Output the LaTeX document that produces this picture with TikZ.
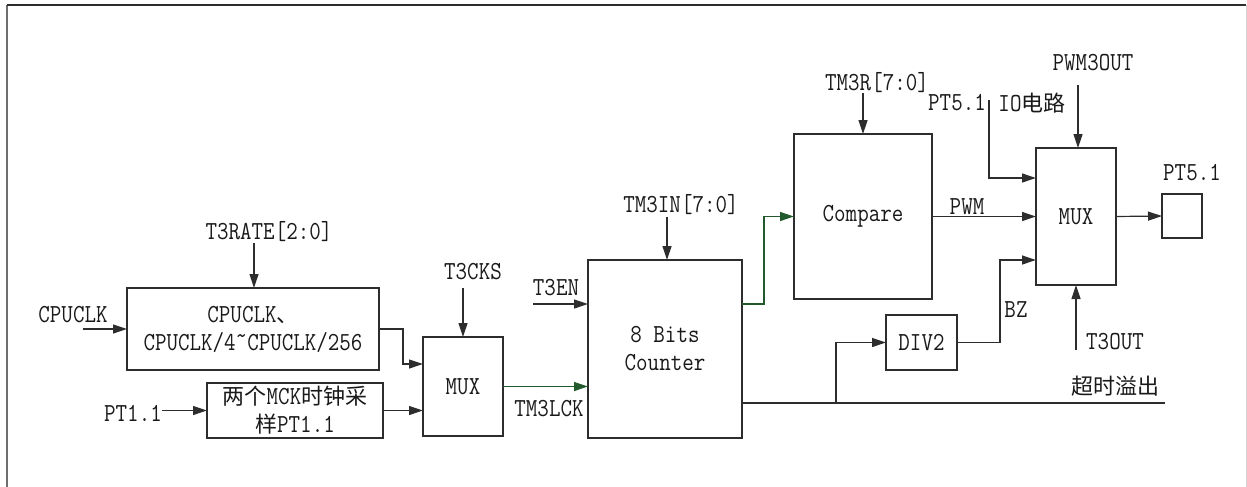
\documentclass[tikz,border=0pt]{standalone}
\usepackage{fontspec}
\setmainfont{Latin Modern Mono}[FakeStretch=0.86]
\newfontfamily\cjk{Noto Sans CJK SC}
\newcommand{\zh}[1]{{\cjk\fontsize{22}{28}\selectfont #1}}
\usetikzlibrary{arrows.meta}
\definecolor{linec}{RGB}{45,45,45}
\definecolor{txtc}{RGB}{25,25,25}
\definecolor{grn}{RGB}{35,90,45}
\begin{document}
\begin{tikzpicture}[x=1pt,y=-1pt,
  font=\fontsize{26}{28}\selectfont,
  box/.style={draw=linec, line width=1.2pt, inner sep=0pt, outer sep=0pt, align=center, text=txtc},
  lbl/.style={inner sep=0pt, text=txtc},
  conn/.style={draw=linec, line width=1.2pt},
  arr/.style={conn, -{Triangle[length=14pt,width=9pt]}},
  garr/.style={arr, draw=grn}]
\useasboundingbox (0,0) rectangle (1247,487);
% frame
\draw[draw={rgb,255:red,110;green,110;blue,110}, line width=2pt] (7,487) -- (7,5);
\draw[draw=linec, line width=1.5pt] (7,5) -- (1246,5);
\draw[draw={rgb,255:red,215;green,215;blue,215}, line width=1pt] (1246,5) -- (1246,487);

% boxes
\node[box, minimum width=252pt, minimum height=82pt] (pre) at (253,329) {CPUCLK\zh{、}\\CPUCLK/4˜CPUCLK/256};
\node[box, minimum width=176pt, minimum height=55pt] (samp) at (295,410.5) {\zh{两个}MCK\zh{时钟采}\\\zh{样}PT1.1};
\node[box, minimum width=80pt, minimum height=99pt] (mux1) at (463,386.5) {MUX};
\node[box, minimum width=154pt, minimum height=178pt] (cnt) at (665,349) {8 Bits\\Counter};
\node[box, minimum width=138pt, minimum height=165pt] (cmp) at (863,216.5) {Compare};
\node[box, minimum width=80pt, minimum height=137pt] (mux2) at (1076,216.5) {MUX};
\node[box, minimum width=71pt, minimum height=55pt] (div) at (921.5,342.5) {DIV2};
\node[box, minimum width=40pt, minimum height=44pt] (pad) at (1182,216) {};

% labels
\node[lbl] (lrate) at (269,232) {T3RATE[2:0]};
\node[lbl] (lcpu) at (73,315) {CPUCLK};
\node[lbl] (lpt11) at (133,413) {PT1.1};
\node[lbl] (lcks) at (473,272) {T3CKS};
\node[lbl] (llck) at (549,409) {TM3LCK};
\node[lbl] (len) at (556,288) {T3EN};
\node[lbl] (lin) at (681,205) {TM3IN[7:0]};
\node[lbl] (lr) at (877,83) {TM3R[7:0]};
\node[lbl] (lpwm) at (967,207) {PWM};
\node[lbl] (lpt51a) at (957,103) {PT5.1};
\node[lbl] (lio) at (1032,103) {IO\zh{电路}};
\node[lbl] (lpwmo) at (1093,63) {PWM3OUT};
\node[lbl] (lpt51b) at (1192,173) {PT5.1};
\node[lbl] (lbz) at (1016,310) {BZ};
\node[lbl] (lout) at (1115,342) {T3OUT};
\node[lbl] (lovf) at (1115,386) {\zh{超时溢出}};

% start coordinates
\coordinate (srate) at (254,243);
\coordinate (scpu) at (83,329);
\coordinate (spt11) at (162,410.5);
\coordinate (scks) at (463,288);
\coordinate (sen) at (533,304);
\coordinate (sin) at (667,217);
\coordinate (sr) at (863,93);
\coordinate (sio) at (989,100);
\coordinate (spwmo) at (1078,85);
\coordinate (sout) at (1076,350);
\coordinate (ovfe) at (1165,403);
\coordinate (brk) at (836,403);

% connectors
\draw[arr] (srate) -- (srate |- pre.north);
\draw[arr] (scpu) -- (pre.west);
\draw[arr] (pre.east) -- ++(24,0) |- ([yshift=22.5pt]mux1.west);
\draw[arr] (spt11) -- (samp.west);
\draw[arr] (samp.east) -- (samp.east -| mux1.west);
\draw[arr] (scks) -- (mux1.north);
\draw[garr] (mux1.east) -- (mux1.east -| cnt.west);
\draw[arr] (sen) -- (sen -| cnt.west);
\draw[arr] (sin) -- (sin |- cnt.north);
\draw[garr] ([yshift=45pt]cnt.east) -- ++(22,0) |- (cmp.west);
\draw[arr] (sr) -- (cmp.north);
\draw[arr] (cmp.east) -- (mux2.west);
\draw[arr] (sio) |- ([yshift=38.5pt]mux2.west);
\draw[arr] (spwmo) -- (spwmo |- mux2.north);
\draw[arr] (mux2.east) -- (pad.west);
\draw[arr] (sout) -- (mux2.south);
\draw[conn] ([yshift=-54pt]cnt.east) -- (ovfe);
\draw[arr] (brk) |- (div.west);
\draw[arr] (div.east) -- ++(43,0) |- ([yshift=-43.5pt]mux2.west);
\end{tikzpicture}
\end{document}
